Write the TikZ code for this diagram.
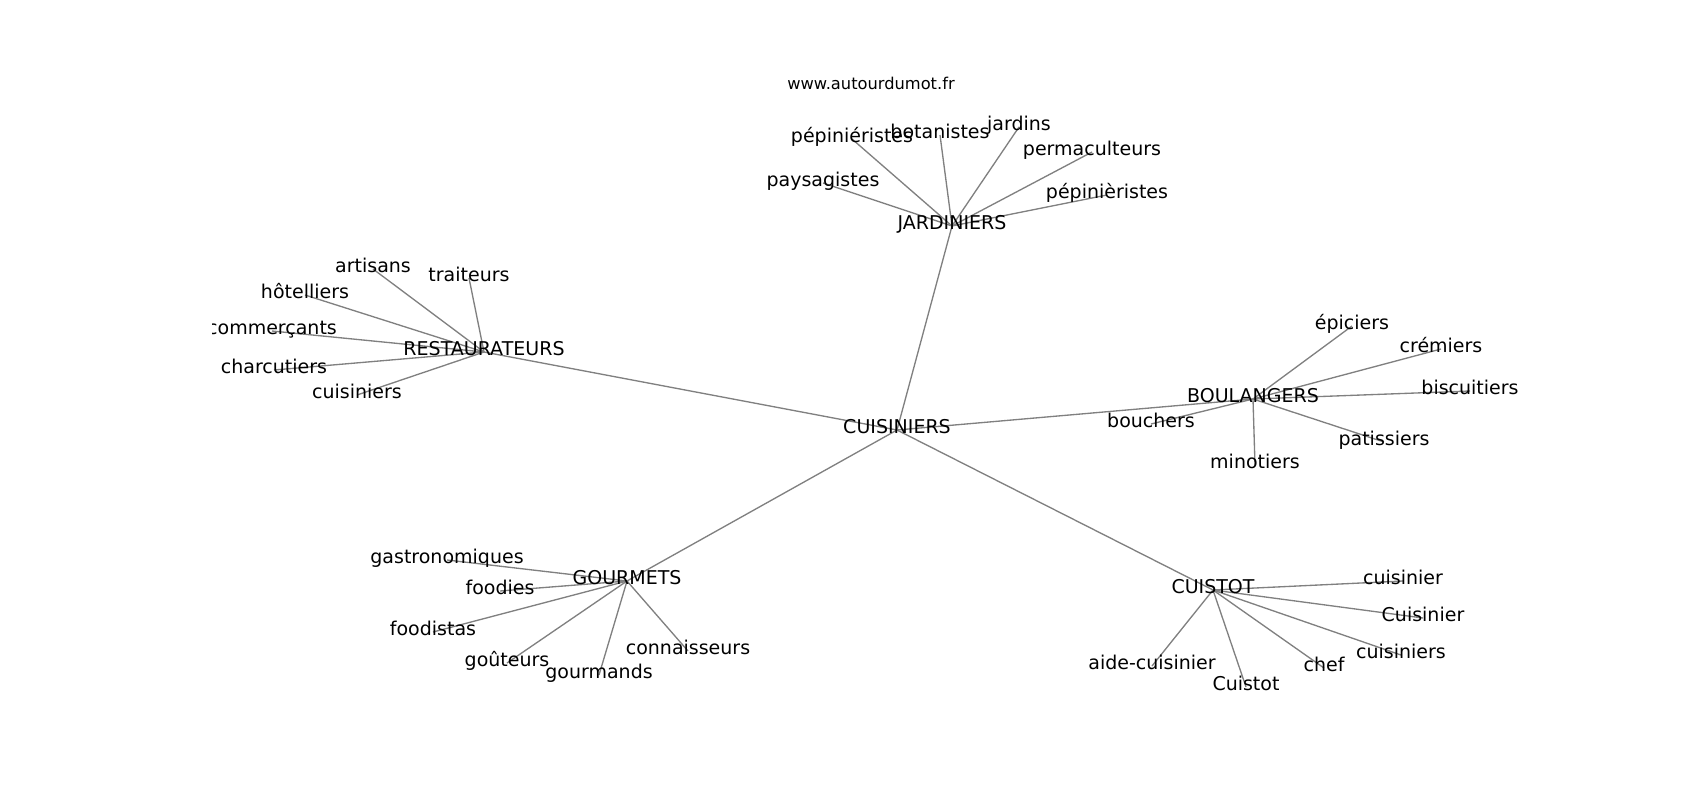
\documentclass[tikz,border=0pt]{standalone}
\usepackage{fontspec}
\setmainfont{DejaVu Sans}
\usepackage{tikz}
\usetikzlibrary{positioning}
\pgfdeclarelayer{bg}
\pgfsetlayers{bg,main}

\begin{document}
\begin{tikzpicture}[x = .75pt, y = -.75pt,
    word/.style = {inner sep = 0pt, font = \fontsize{14.25}{17}\selectfont, text height = .76em, text depth = .24em},
    link/.style = {draw = gray, line width = 1pt}]
  \useasboundingbox (0,0) rectangle (1700,800);
  \node[inner sep = 0pt, font = \fontsize{12.2}{14}\selectfont] (url) at (871,83) {www.autourdumot.fr};
  \clip (212.5,0) rectangle (1530,800);
  % hubs
  \node[word] (cuis) at (897,430) {CUISINIERS};
  \node[word] (jard) at (952,226) {JARDINIERS};
  \node[word] (rest) at (484,352) {RESTAURATEURS};
  \node[word] (boul) at (1253,399) {BOULANGERS};
  \node[word] (gour) at (627,581) {GOURMETS};
  \node[word] (cuist) at (1213,590) {CUISTOT};
  % jardiniers
  \node[word] (pepi1) at (852,139) {pépiniéristes};
  \node[word] (bota) at (940,135) {botanistes};
  \node[word] (jardins) at (1019,127) {jardins};
  \node[word] (perma) at (1092,152) {permaculteurs};
  \node[word] (pays) at (823,183) {paysagistes};
  \node[word] (pepi2) at (1107,195) {pépinièristes};
  % restaurateurs
  \node[word] (arti) at (373,269) {artisans};
  \node[word] (trai) at (469,278) {traiteurs};
  \node[word] (hote) at (305,295) {hôtelliers};
  \node[word] (comm) at (272,331) {commerçants};
  \node[word] (char) at (274,370) {charcutiers};
  \node[word] (cuis1) at (357,395) {cuisiniers};
  % boulangers
  \node[word] (epic) at (1352,326) {épiciers};
  \node[word] (crem) at (1441,349) {crémiers};
  \node[word] (bisc) at (1470,391) {biscuitiers};
  \node[word] (bouc) at (1151,424) {bouchers};
  \node[word] (mino) at (1255,465) {minotiers};
  \node[word] (pati) at (1384,442) {patissiers};
  % gourmets
  \node[word] (gast) at (447,560) {gastronomiques};
  \node[word] (food) at (500,591) {foodies};
  \node[word] (fdst) at (433,632) {foodistas};
  \node[word] (gout) at (507,663) {goûteurs};
  \node[word] (grmd) at (599,675) {gourmands};
  \node[word] (conn) at (688,651) {connaisseurs};
  % cuistot
  \node[word] (cuis2) at (1403,581) {cuisinier};
  \node[word] (cuis3) at (1423,618) {Cuisinier};
  \node[word] (cuis4) at (1401,655) {cuisiniers};
  \node[word] (chef) at (1324,668) {chef};
  \node[word] (cstt) at (1246,687) {Cuistot};
  \node[word] (aide) at (1152,666) {aide-cuisinier};
  \begin{pgfonlayer}{bg}
    \draw[link] (cuis.center) -- (jard.center);
    \draw[link] (cuis.center) -- (rest.center);
    \draw[link] (cuis.center) -- (boul.center);
    \draw[link] (cuis.center) -- (gour.center);
    \draw[link] (cuis.center) -- (cuist.center);
    \draw[link] (jard.center) -- (pepi1.center);
    \draw[link] (jard.center) -- (bota.center);
    \draw[link] (jard.center) -- (jardins.center);
    \draw[link] (jard.center) -- (perma.center);
    \draw[link] (jard.center) -- (pays.center);
    \draw[link] (jard.center) -- (pepi2.center);
    \draw[link] (rest.center) -- (arti.center);
    \draw[link] (rest.center) -- (trai.center);
    \draw[link] (rest.center) -- (hote.center);
    \draw[link] (rest.center) -- (comm.center);
    \draw[link] (rest.center) -- (char.center);
    \draw[link] (rest.center) -- (cuis1.center);
    \draw[link] (boul.center) -- (epic.center);
    \draw[link] (boul.center) -- (crem.center);
    \draw[link] (boul.center) -- (bisc.center);
    \draw[link] (boul.center) -- (bouc.center);
    \draw[link] (boul.center) -- (mino.center);
    \draw[link] (boul.center) -- (pati.center);
    \draw[link] (gour.center) -- (gast.center);
    \draw[link] (gour.center) -- (food.center);
    \draw[link] (gour.center) -- (fdst.center);
    \draw[link] (gour.center) -- (gout.center);
    \draw[link] (gour.center) -- (grmd.center);
    \draw[link] (gour.center) -- (conn.center);
    \draw[link] (cuist.center) -- (cuis2.center);
    \draw[link] (cuist.center) -- (cuis3.center);
    \draw[link] (cuist.center) -- (cuis4.center);
    \draw[link] (cuist.center) -- (chef.center);
    \draw[link] (cuist.center) -- (cstt.center);
    \draw[link] (cuist.center) -- (aide.center);
  \end{pgfonlayer}
\end{tikzpicture}
\end{document}
